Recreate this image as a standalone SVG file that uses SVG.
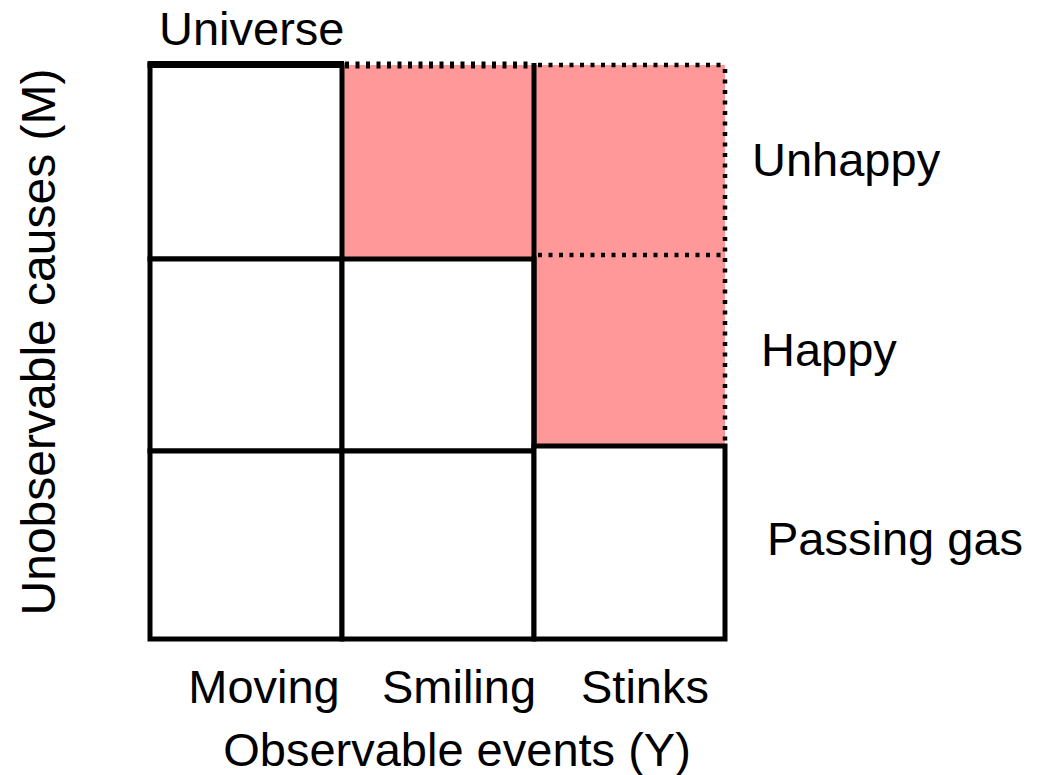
<svg xmlns="http://www.w3.org/2000/svg" width="1039" height="775" viewBox="0 0 1039 775">
<style>
.t{font-family:"Liberation Sans",Arial,sans-serif;font-size:47px;fill:#000}
.cell{fill:#fff;stroke:#000;stroke-width:5}
.pink{fill:#ff9898;stroke:none}
.solid{stroke:#000;stroke-width:5;fill:none}
.dot{stroke:#000;stroke-width:4.5;stroke-dasharray:4 6.5;fill:none}
</style>
<rect width="1039" height="775" fill="#fff"/>
<g id="universe">
<text class="t" x="159" y="45">Universe</text>
</g>
<g id="regions">
<rect id="pink-smiling-unhappy" class="pink" x="342" y="65" width="192" height="194"/>
<rect id="pink-stinks" class="pink" x="534" y="65" width="191" height="381"/>
</g>
<g id="cells">
<rect id="cell-moving-unhappy" class="cell" x="150" y="65" width="192" height="194"/>
<rect id="cell-moving-happy" class="cell" x="150" y="259" width="192" height="192"/>
<rect id="cell-moving-gas" class="cell" x="150" y="451" width="192" height="188"/>
<rect id="cell-smiling-happy" class="cell" x="342" y="259" width="192" height="192"/>
<rect id="cell-smiling-gas" class="cell" x="342" y="451" width="192" height="188"/>
<rect id="cell-stinks-gas" class="cell" x="534" y="446" width="191" height="193"/>
</g>
<g id="connectors">
<line x1="147.5" y1="64.5" x2="344" y2="64.5" stroke="#000" stroke-width="7"/>
<line class="solid" x1="534" y1="63" x2="534" y2="448"/>
<line x1="345" y1="65" x2="532" y2="65" stroke="#000" stroke-width="7" stroke-dasharray="4 6.5"/>
<line class="dot" x1="538" y1="65" x2="725" y2="65"/>
<line class="dot" x1="725" y1="69" x2="725" y2="444"/>
<line class="dot" x1="538" y1="255" x2="725" y2="255"/>
</g>
<g id="labels">
<text class="t" x="752" y="176">Unhappy</text>
<text class="t" x="761" y="366">Happy</text>
<text class="t" x="767" y="555">Passing gas</text>
<text class="t" x="264" y="703" text-anchor="middle">Moving</text>
<text class="t" x="459" y="703" text-anchor="middle">Smiling</text>
<text class="t" x="645" y="703" text-anchor="middle">Stinks</text>
<text class="t" x="457" y="766" text-anchor="middle">Observable events (Y)</text>
<text class="t" transform="translate(55,342) rotate(-90)" text-anchor="middle" style="font-size:48px">Unobservable causes (M)</text>
</g>
</svg>
